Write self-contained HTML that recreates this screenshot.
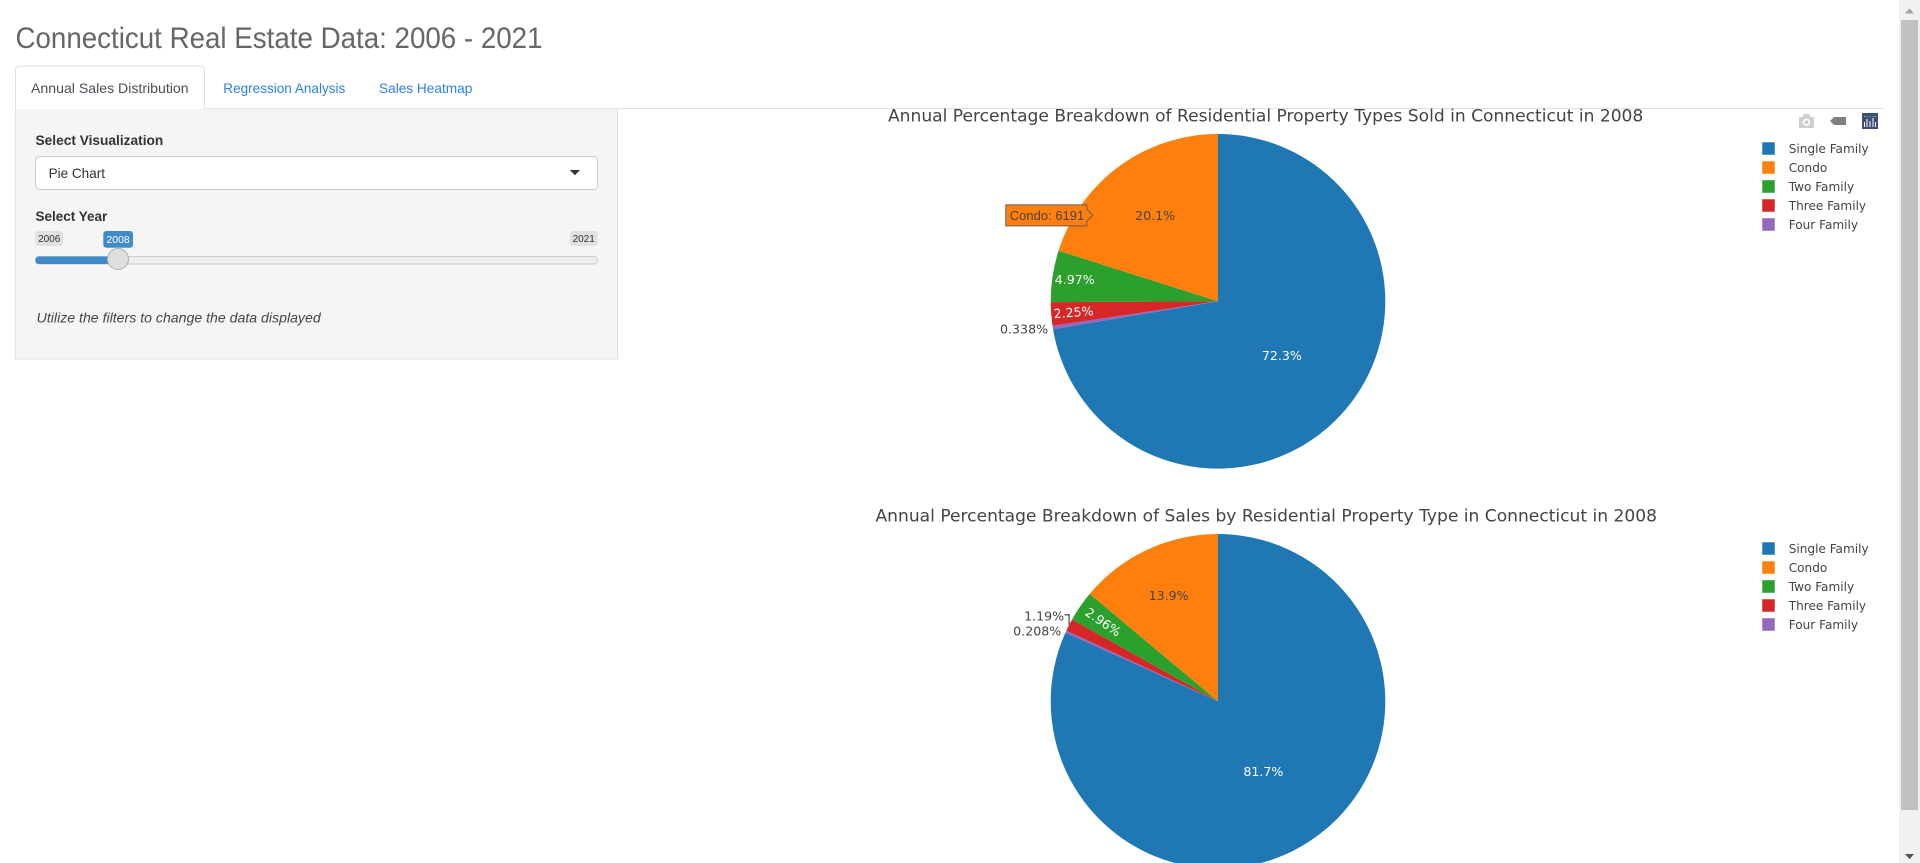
<!DOCTYPE html>
<html lang="en">
<head>
<meta charset="utf-8">
<title>Connecticut Real Estate Data: 2006 - 2021</title>
<style>
html,body{margin:0;padding:0;width:1920px;height:863px;overflow:hidden;background:#fff}
svg{display:block}
.ui{font-family:"Liberation Sans",sans-serif}
.pl{font-family:"DejaVu Sans",sans-serif;fill:#444}
</style>
</head>
<body>
<svg id="page" xmlns="http://www.w3.org/2000/svg" width="1920" height="863" viewBox="0 0 1920 863">
  <text class="ui" x="15.5" y="48" font-size="30" font-weight="300" fill="#666" textLength="527" lengthAdjust="spacingAndGlyphs">Connecticut Real Estate Data: 2006 - 2021</text>

  <line x1="15" y1="108.5" x2="1884" y2="108.5" stroke="#dee2e6"/>
  <g>
    <path d="M15.5 109V70a4 4 0 0 1 4-4H200.500a4 4 0 0 1 4 4V109Z" fill="#fff" stroke="#dee2e6"/>
    <text class="ui" x="31" y="93" font-size="14" fill="#495057" textLength="157.600" lengthAdjust="spacingAndGlyphs">Annual Sales Distribution</text>
  </g>
  <text class="ui" x="223.300" y="93" font-size="14" fill="#2f7ff0" textLength="122" lengthAdjust="spacingAndGlyphs">Regression Analysis</text>
  <text class="ui" x="379" y="93" font-size="14" fill="#2f7ff0" textLength="93.300" lengthAdjust="spacingAndGlyphs">Sales Heatmap</text>

  <rect x="15.500" y="108.500" width="602" height="250.500" fill="#f5f5f5" stroke="#e3e3e3"/>
  <line x1="16" y1="108.500" x2="204" y2="108.500" stroke="#fff"/>

  <text class="ui" x="35.500" y="145" font-size="14" font-weight="700" fill="#333" textLength="127.800" lengthAdjust="spacingAndGlyphs">Select Visualization</text>
  <g>
    <rect x="35.500" y="156.500" width="562" height="33" rx="4" fill="#fff" stroke="#ccc"/>
    <text class="ui" x="48.600" y="178" font-size="14" fill="#333" textLength="56.400" lengthAdjust="spacingAndGlyphs">Pie Chart</text>
    <path d="M569.800 170H580L574.900 175.200Z" fill="#333"/>
  </g>

  <text class="ui" x="35.500" y="221" font-size="14" font-weight="700" fill="#333" textLength="71.800" lengthAdjust="spacingAndGlyphs">Select Year</text>
  <g>
    <rect x="35.500" y="231" width="27.500" height="15" rx="3" fill="#e1e1e1"/>
    <text class="ui" x="49.200" y="242" font-size="10" fill="#333" text-anchor="middle">2006</text>
  </g>
  <g>
    <rect x="569.800" y="231" width="27.800" height="15" rx="3" fill="#e1e1e1"/>
    <text class="ui" x="583.700" y="242" font-size="10" fill="#333" text-anchor="middle">2021</text>
  </g>
  <g>
    <rect x="103.300" y="231" width="29.700" height="16.700" rx="3" fill="#428bca"/>
    <text class="ui" x="118.100" y="243" font-size="10.500" fill="#fff" text-anchor="middle">2008</text>
  </g>
  <rect x="35.500" y="256.500" width="562" height="7.500" rx="3.700" fill="#eee" stroke="#ccc"/>
  <rect x="35.500" y="256.500" width="83" height="7.500" rx="3" fill="#428bca"/>
  <circle cx="118" cy="259" r="10.500" fill="#dedede" stroke="#b0b0b0"/>

  <text class="ui" x="36.700" y="322.500" font-size="14" font-style="italic" fill="#444" textLength="284" lengthAdjust="spacingAndGlyphs">Utilize the filters to change the data displayed</text>

  <text class="pl" x="888" y="121.500" font-size="16.800" textLength="755.300" lengthAdjust="spacingAndGlyphs">Annual Percentage Breakdown of Residential Property Types Sold in Connecticut in 2008</text>
  <text class="pl" x="875.500" y="521.500" font-size="16.800" textLength="781.500" lengthAdjust="spacingAndGlyphs">Annual Percentage Breakdown of Sales by Residential Property Type in Connecticut in 2008</text>

  <g id="count-chart"></g>
  <g id="sales-chart"></g>

  <g fill="#cfcfcf">
    <path fill-rule="evenodd" d="M1799 117h3.500l1.500-3h5l1.500 3h3.500v11h-15ZM1806.500 118.500a3.700 3.700 0 1 0 .01 0Z"/>
    <circle cx="1806.500" cy="122.200" r="2"/>
  </g>
  <path d="M1830 121l4-4h12v8h-12Z" fill="#808080"/>
  <g>
    <rect x="1862" y="113" width="16" height="16" fill="#3f4f75"/>
    <path d="M1864.500 122v5M1867 119v8M1870 121v6M1873 118v9M1875.500 122v5" stroke="#fff" stroke-width="1" fill="none"/>
    <path d="M1864.500 116v1M1867 116v1M1870 116v1M1873 116v1M1875.500 116v1" stroke="#7fd0d8" stroke-width="1" fill="none"/>
  </g>

  <g>
    <rect x="1899" y="0" width="21" height="863" fill="#f1f1f1"/>
    <rect x="1901" y="20" width="17" height="790" fill="#c1c1c1"/>
    <path d="M1905 13.500h9L1909.500 8.500Z" fill="#a3a3a3"/>
    <path d="M1905 854h9L1909.500 859Z" fill="#505050"/>
  </g>
</svg>
<script>
const propertyTypes = ['Single Family', 'Condo', 'Two Family', 'Three Family', 'Four Family'];
const unitsSold2008 = [22268, 6191, 1531, 693, 104];
const salesShare2008 = [81.7, 13.9, 2.96, 1.19, 0.208];
const sliceOrder = [0, 4, 3, 2, 1];
const sliceColors = ['#1f77b4', '#ff7f0e', '#2ca02c', '#d62728', '#9467bd'];
const labelInk = ['#fff', '#444', '#fff', '#fff', '#444'];

const NS = 'http://www.w3.org/2000/svg';
const RADIUS = 167.3;

function make(tag, attrs, parent) {
  const el = document.createElementNS(NS, tag);
  Object.keys(attrs).forEach(function (k) { el.setAttribute(k, attrs[k]); });
  parent.appendChild(el);
  return el;
}
function angleScale(value, total) { return value / total * 2 * Math.PI; }
function polar(cx, cy, r, a) { return [cx + r * Math.sin(a), cy - r * Math.cos(a)]; }
function slug(s) { return s.toLowerCase().replace(/\s+/g, '-'); }
function labelRadius(share) {
  if (share > 0.5) return 0.5;
  if (share > 0.1) return 1 - 0.81 * Math.sqrt(share);
  if (share < 0.025) return 0.866;
  return share < 0.04 ? 0.834 : 0.866;
}

function drawPie(group, values, cx, cy, legendTop, hoverIndex) {
  const total = values.reduce(function (a, b) { return a + b; }, 0);
  let cursor = 0;
  let lastOutsideY = null;
  const labelLayer = [];
  sliceOrder.forEach(function (i) {
    const start = angleScale(cursor, total);
    cursor += values[i];
    const end = angleScale(cursor, total);
    const p0 = polar(cx, cy, RADIUS, start);
    const p1 = polar(cx, cy, RADIUS, end);
    const large = end - start > Math.PI ? 1 : 0;
    const d = 'M' + cx + ' ' + cy + 'L' + p0[0] + ' ' + p0[1] + 'A' + RADIUS + ' ' + RADIUS + ' 0 ' + large + ' 1 ' + p1[0] + ' ' + p1[1] + 'Z';
    const slice = make('path', { d: d, fill: sliceColors[i] }, group);
    
    
    labelLayer.push({ i: i, mid: (start + end) / 2, share: values[i] / total });
  });

  const outsideCount = labelLayer.filter(function (l) { return l.share < 0.02; }).length;
  const outsideLift = outsideCount > 1 ? -2.5 : 0;

  labelLayer.forEach(function (item) {
    const text = (item.share * 100).toPrecision(3) + '%';
    const deg = item.mid * 180 / Math.PI;
    let node;
    if (item.share < 0.02) {
      const edge = polar(cx, cy, RADIUS, item.mid);
      let y = edge[1] + 1.7 + outsideLift;
      const overlap = lastOutsideY !== null && Math.abs(lastOutsideY - y) < 15;
      if (overlap) {
        y = lastOutsideY - 15;
        const leader = make('path', {
          d: 'M' + edge[0] + ' ' + edge[1] + 'V' + (y - 1) + 'H' + (edge[0] - 4.5),
          fill: 'none', stroke: '#555', 'stroke-width': 1.3
        }, group);
        
        
        node = make('text', { x: edge[0] - 5, y: y + 4.5, 'text-anchor': 'end', 'font-size': 12.6, class: 'pl' }, group);
      } else {
        node = make('text', { x: edge[0] - 4.7, y: y + 4.5, 'text-anchor': 'end', 'font-size': 12.6, class: 'pl' }, group);
      }
      lastOutsideY = y;
    } else {
      const pos = polar(cx, cy, RADIUS * labelRadius(item.share), item.mid);
      const rotate = item.share < 0.04 ? deg - 270 : 0;
      node = make('text', {
        x: pos[0], y: pos[1] + 4.5, 'text-anchor': 'middle', 'font-size': 12.6, class: 'pl',
        transform: rotate ? 'rotate(' + rotate + ' ' + pos[0] + ' ' + pos[1] + ')' : ''
      }, group);
      node.style.fill = labelInk[item.i];
      item.x = pos[0];
      item.y = pos[1];
    }
    node.textContent = text;
    
    
  });

  propertyTypes.forEach(function (name, i) {
    const row = make('g', {}, group);
    
    
    const y = legendTop + i * 19;
    make('rect', { x: 1762.5, y: y + 0.5, width: 12, height: 12, fill: sliceColors[i], stroke: sliceColors[i], 'stroke-opacity': 0.5 }, row);
    const t = make('text', { x: 1788.7, y: y + 11, 'font-size': 12.1, class: 'pl' }, row);
    t.textContent = name;
  });

  if (hoverIndex !== null) {
    const item = labelLayer.filter(function (l) { return l.i === hoverIndex; })[0];
    const tipX = item.x - 62.3;
    const tipY = item.y;
    const tip = make('g', {}, group);
    
    
    make('path', {
      d: 'M' + tipX + ' ' + tipY + 'l-6 -6v-4.500h-81v21h81v-4.500Z',
      fill: sliceColors[hoverIndex], stroke: '#6e5a48', 'stroke-width': 1
    }, tip);
    const t = make('text', { x: tipX - 83, y: tipY + 4.6, 'font-size': 13, fill: '#444', 'font-family': '"Liberation Sans",sans-serif' }, tip);
    t.textContent = propertyTypes[hoverIndex] + ': ' + values[hoverIndex];
  }
}

drawPie(document.getElementById('count-chart'), unitsSold2008, 1218, 301.3, 142, 1);
drawPie(document.getElementById('sales-chart'), salesShare2008, 1218, 701.3, 542, null);
</script>
</body>
</html>
